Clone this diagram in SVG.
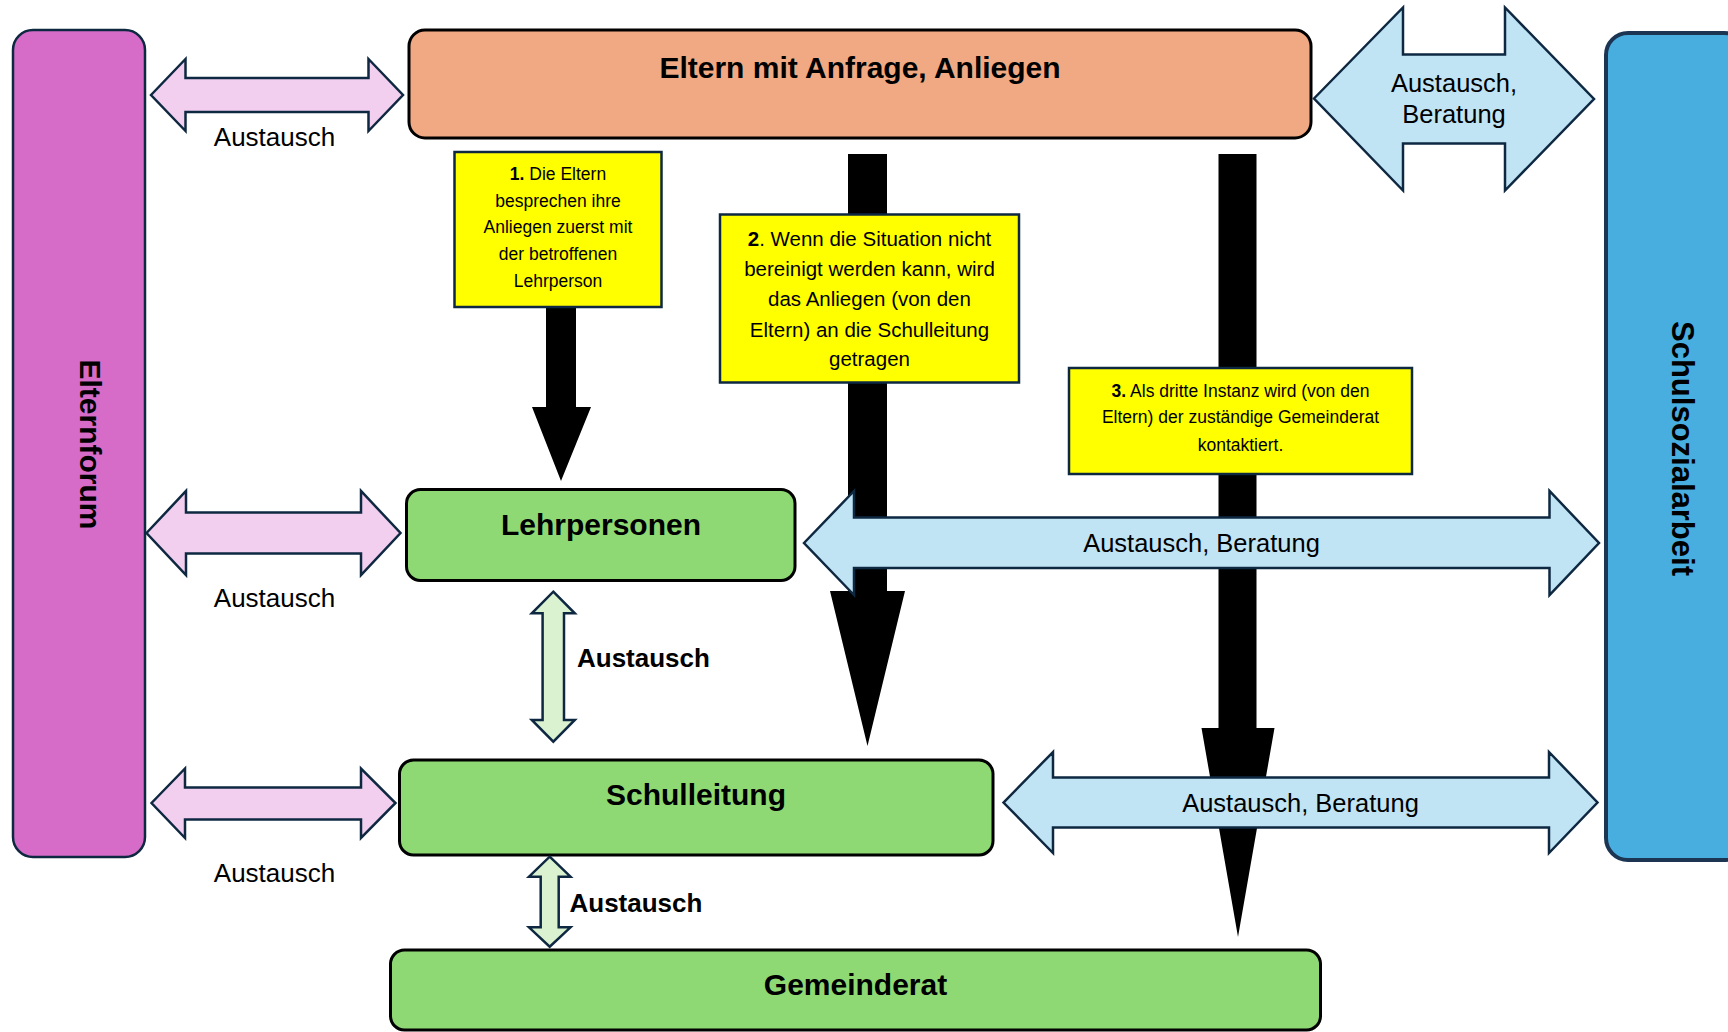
<svg xmlns="http://www.w3.org/2000/svg" width="1728" height="1032" viewBox="0 0 1728 1032">
  <style>
    text { font-family: "Liberation Sans", Arial, sans-serif; fill: #000; }
    .title { font-size: 30px; font-weight: bold; text-anchor: middle; }
    .note { font-size: 17.5px; text-anchor: middle; }
    .note2 { font-size: 20.5px; text-anchor: middle; }
    .lbl { font-size: 26px; text-anchor: middle; }
    .lblb { font-size: 26px; font-weight: bold; }
    .blbl { font-size: 25.5px; text-anchor: middle; }
    .box { stroke: #000; stroke-width: 3; }
    .green { fill: #8ED973; }
    .yellow { fill: #FFFF00; stroke: #0E2841; stroke-width: 2.5; }
    .pink { fill: #F2CEEF; stroke: #0E2841; stroke-width: 2.5; stroke-linejoin: miter; }
    .blue { fill: #C1E4F5; stroke: #0E2841; stroke-width: 2.5; }
    .lgreen { fill: #DAF2D0; stroke: #0E2841; stroke-width: 2.5; }
    .bar { fill: #000; }
  </style>

  <!-- Side columns -->
  <g id="elternforum">
    <rect x="13" y="30" width="132" height="827" rx="20" fill="#D66CC8" stroke="#0E2841" stroke-width="2.5"/>
    <text class="title" transform="translate(80,444.5) rotate(90)">Elternforum</text>
  </g>
  <g id="schulsozialarbeit">
    <rect x="1606" y="33" width="140" height="827" rx="22" fill="#47AEDF" stroke="#1B3553" stroke-width="4"/>
    <text class="title" style="font-size:31px" transform="translate(1672,448.5) rotate(90)">Schulsozialarbeit</text>
  </g>

  <!-- Escalation arrows (black) -->
  <g id="connectors-escalation">
    <polygon class="bar" points="546,307 576,307 576,407 591,407 561,481 532,407 546,407"/>
    <polygon class="bar" points="848,154 887,154 887,591 905,591 867.5,746 830,591 848,591"/>
    <polygon class="bar" points="1218.5,154 1256.5,154 1256.5,728 1274.5,728 1238,937 1201.5,728 1218.5,728"/>
  </g>

  <!-- Main nodes -->
  <g id="eltern">
    <rect class="box" x="409" y="30" width="902" height="108" rx="16" fill="#F1A983"/>
    <text class="title" x="860" y="77.5">Eltern mit Anfrage, Anliegen</text>
  </g>
  <g id="lehrpersonen">
    <rect class="box green" x="406.5" y="489.5" width="388.5" height="91" rx="14"/>
    <text class="title" x="601" y="535">Lehrpersonen</text>
  </g>
  <g id="schulleitung">
    <rect class="box green" x="399.5" y="760" width="593.5" height="95" rx="14"/>
    <text class="title" x="696" y="805">Schulleitung</text>
  </g>
  <g id="gemeinderat">
    <rect class="box green" x="390.5" y="950" width="930" height="80" rx="14"/>
    <text class="title" x="855.5" y="995">Gemeinderat</text>
  </g>

  <!-- Step notes -->
  <g id="schritt1">
    <rect class="yellow" x="454.5" y="152" width="207" height="155"/>
    <text class="note" x="558" y="180"><tspan font-weight="bold">1.</tspan> Die Eltern</text>
    <text class="note" x="558" y="206.7">besprechen ihre</text>
    <text class="note" x="558" y="233.3">Anliegen zuerst mit</text>
    <text class="note" x="558" y="260">der betroffenen</text>
    <text class="note" x="558" y="286.7">Lehrperson</text>
  </g>
  <g id="schritt2">
    <rect class="yellow" x="720" y="214.5" width="299" height="168"/>
    <text class="note2" x="869.5" y="246"><tspan font-weight="bold">2</tspan>. Wenn die Situation nicht</text>
    <text class="note2" x="869.5" y="276">bereinigt werden kann, wird</text>
    <text class="note2" x="869.5" y="306">das Anliegen (von den</text>
    <text class="note2" x="869.5" y="336.5">Eltern) an die Schulleitung</text>
    <text class="note2" x="869.5" y="366">getragen</text>
  </g>
  <g id="schritt3">
    <rect class="yellow" x="1069" y="368" width="343" height="106"/>
    <text class="note" x="1240.5" y="396.7"><tspan font-weight="bold">3.</tspan> Als dritte Instanz wird (von den</text>
    <text class="note" x="1240.5" y="423.3">Eltern) der zuständige Gemeinderat</text>
    <text class="note" x="1240.5" y="450.5">kontaktiert.</text>
  </g>

  <!-- Exchange connectors -->
  <g id="connectors-exchange">
    <polygon class="pink" points="151,95 185.5,59 185.5,78 368.5,78 368.5,59 403,95 368.5,131 368.5,112 185.5,112 185.5,131"/>
    <polygon class="pink" points="146.5,533 186,491 186,512.5 361,512.5 361,491 400.5,533 361,575 361,553.5 186,553.5 186,575"/>
    <polygon class="pink" points="151.5,803 185,768.5 185,787.5 361,787.5 361,768.5 395.5,803 361,838 361,819.5 185,819.5 185,838"/>

    <polygon class="blue" points="1314,98.5 1403,7.5 1403,54.5 1505,54.5 1505,7.5 1594,99 1505,190.5 1505,143.5 1403,143.5 1403,190.5"/>
    <polygon class="blue" points="804,543 854,491 854,517.5 1549.5,517.5 1549.5,491 1599,543 1549.5,595 1549.5,568 854,568 854,595"/>
    <polygon class="blue" points="1003.5,802.5 1053,752 1053,777.5 1549,777.5 1549,752 1597.5,802.5 1549,853 1549,827.5 1053,827.5 1053,853"/>

    <polygon class="lgreen" points="553.3,591.7 574.8,613.3 564,613.3 564,720 574.8,720 553.3,741.7 531.8,720 542.6,720 542.6,613.3 531.8,613.3"/>
    <polygon class="lgreen" points="549.7,856.7 570.5,876.7 558.7,876.7 558.7,927.3 570.5,927.3 549.7,946.7 529,927.3 540.7,927.3 540.7,876.7 529,876.7"/>

    <text class="lbl" x="274.5" y="146">Austausch</text>
    <text class="lbl" x="274.5" y="606.7">Austausch</text>
    <text class="lbl" x="274.5" y="881.7">Austausch</text>
    <text class="lblb" x="577" y="666.7">Austausch</text>
    <text class="lblb" x="569.5" y="911.7">Austausch</text>
    <text class="blbl" x="1454" y="91.7">Austausch,</text>
    <text class="blbl" x="1454" y="123.3">Beratung</text>
    <text class="blbl" x="1201.5" y="551.7">Austausch, Beratung</text>
    <text class="blbl" x="1300.5" y="811.7">Austausch, Beratung</text>
  </g>
</svg>
